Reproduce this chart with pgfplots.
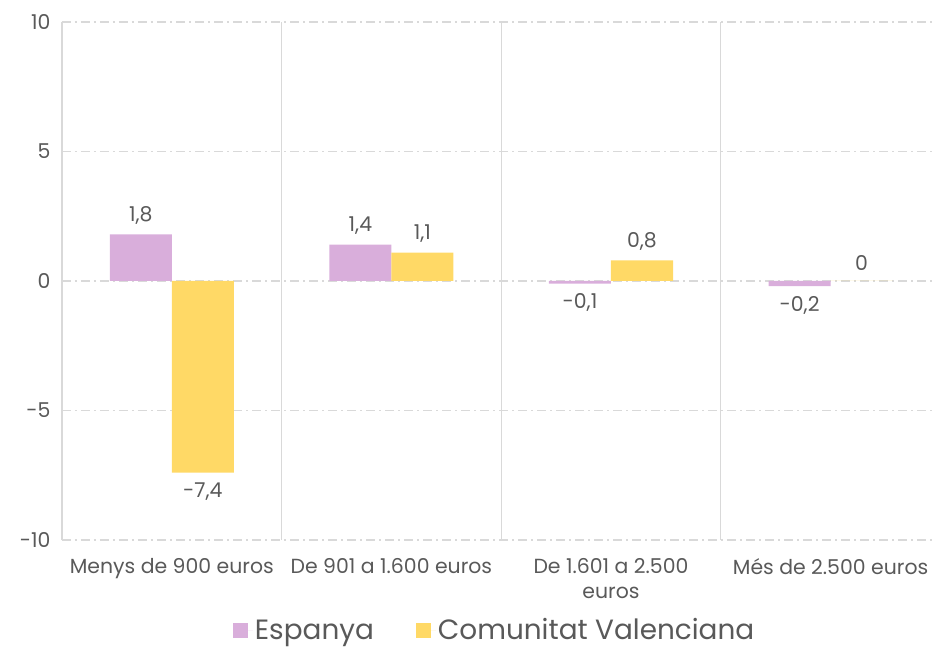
\documentclass[border=0pt]{standalone}
\usepackage{pgfplots}
\pgfplotsset{compat=1.18}
\usepackage{fontspec}
\setmainfont{Poppins}
\definecolor{espcol}{HTML}{D9AEDB}
\definecolor{cvcol}{HTML}{FFD966}
\definecolor{txtgray}{HTML}{595959}
\definecolor{gridgray}{HTML}{D9D9D9}
\begin{document}
\begin{tikzpicture}
\begin{axis}[
  scale only axis,
  width=874bp, height=518bp,
  ybar=0pt, bar width=62bp,
  xmin=-0.5, xmax=3.48,
  ymin=-10, ymax=10,
  ytick={-10,-5,0,5,10},
  xtick={0,1,2,3},
  xticklabels={Menys de 900 euros, De 901 a 1.600 euros, {De 1.601 a 2.500\\euros}, Més de 2.500 euros},
  xticklabel style={align=center, font=\fontsize{20.5}{25}\selectfont, text=txtgray, yshift=-15bp, anchor=north},
  yticklabel style={font=\fontsize{20.5}{22}\selectfont, text=txtgray, xshift=-8bp},
  /pgf/number format/assume math mode=true,
  major tick length=0pt,
  axis line style={draw=none},
  ymajorgrids,
  grid style={gridgray, line width=1.2bp, dash pattern=on 9bp off 4bp on 2bp off 4bp},
  extra x ticks={-0.5,0.5,1.5,2.5},
  extra x tick labels={},
  extra x tick style={grid=major, major grid style={gridgray, line width=1.2bp, solid}},
  nodes near coords,
  every node near coord/.append style={font=\fontsize{20.5}{22}\selectfont, text=txtgray, inner sep=10bp,
     /pgf/number format/.cd, use comma, fixed, precision=1},
  legend style={at={(0.495,-0.174)}, anchor=center, draw=none, legend columns=2,
     font=\fontsize{28}{30}\selectfont, text=txtgray,
     /tikz/every even column/.append style={column sep=40bp}},
  legend image code/.code={\fill[#1] (0bp,-7.5bp) rectangle (15bp,7.5bp); \path (15bp,0bp) -- (20bp,0bp);},
]
\addplot[fill=espcol, draw=none] coordinates {(0,1.8) (1,1.4) (2,-0.1) (3,-0.2)};
\addplot[fill=cvcol, draw=none] coordinates {(0,-7.4) (1,1.1) (2,0.8) (3,0)};
\legend{Espanya, Comunitat Valenciana}
\end{axis}
\pgfresetboundingbox
\useasboundingbox (-62bp,-108bp) rectangle (874bp,540bp);
\end{tikzpicture}
\end{document}
